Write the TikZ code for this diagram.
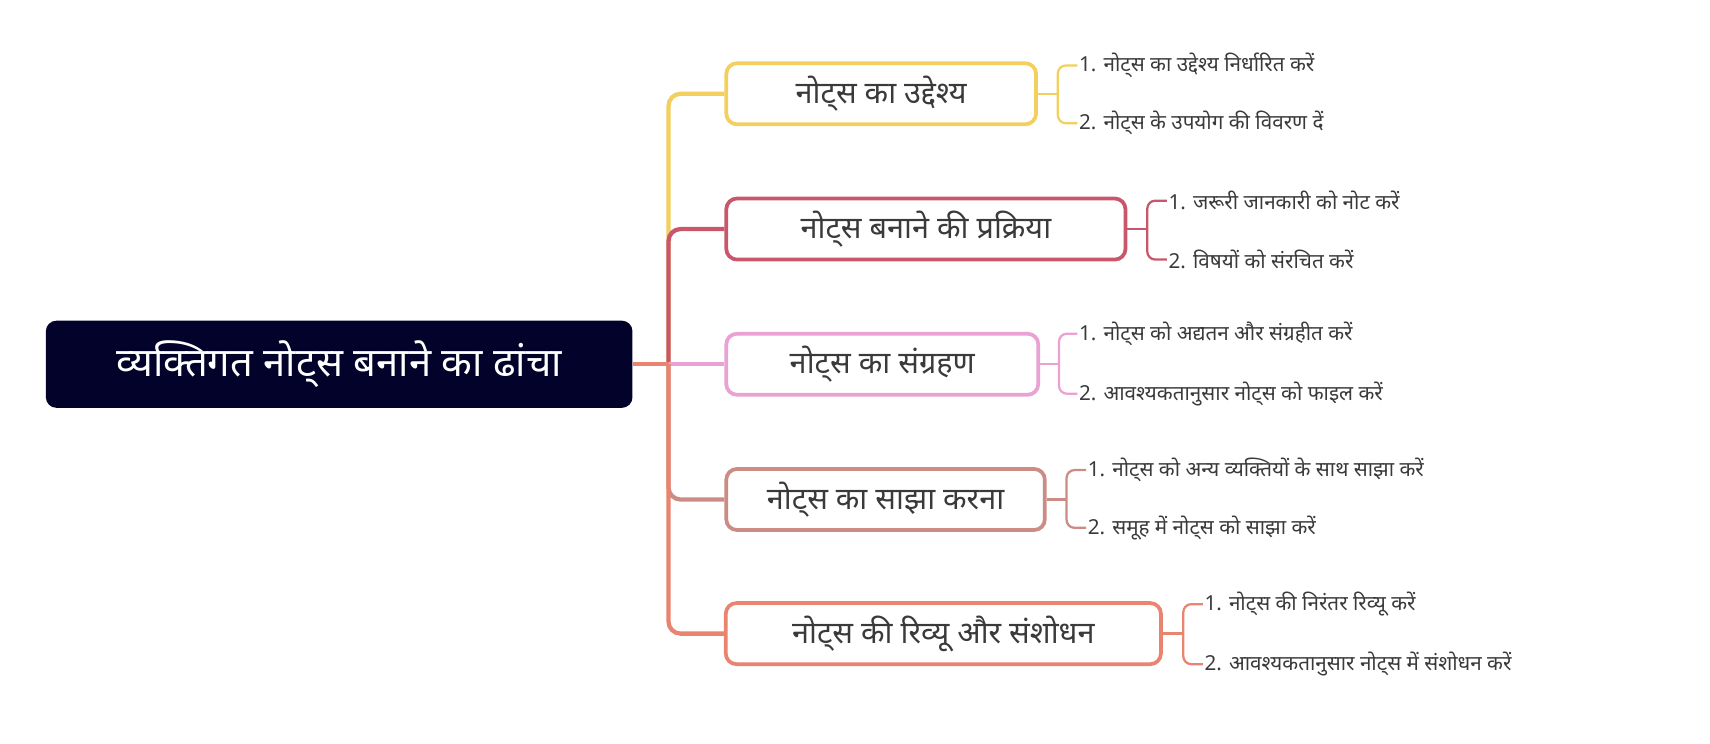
\documentclass[tikz,border=0pt]{standalone}
\usepackage{fontspec}
\setmainfont{Noto Sans}[Script=Devanagari]
\usepackage{tikz}
\usetikzlibrary{positioning}

\definecolor{navy}{HTML}{02022A}
\definecolor{mango}{HTML}{F2CF5E}
\definecolor{berry}{HTML}{C9576C}
\definecolor{orchid}{HTML}{E9A2D3}
\definecolor{rosewood}{HTML}{CC8C86}
\definecolor{salmon}{HTML}{E8846F}
\definecolor{ink}{HTML}{3A3A3A}

\tikzset{
  topic/.style={draw=#1,fill=white,line width=2.8pt,rounded corners=8pt,
    minimum height=45.8pt,text=ink,font=\fontsize{23}{28}\selectfont},
  leaf/.style={anchor=west,inner sep=1pt,text=ink,font=\fontsize{15.5}{19}\selectfont},
  branch/.style={draw=#1,line width=3.2pt,rounded corners=9pt},
  brace/.style={draw=#1,line width=1.7pt,rounded corners=6pt}
}

\begin{document}
\begin{tikzpicture}[x=0.818pt,y=-0.818pt]
        \useasboundingbox (0,0) rectangle (1568,682);
        \node[fill=navy,rounded corners=8pt,minimum width=440pt,minimum height=65.4pt,
              text=white,font=\fontsize{30}{36}\selectfont\bfseries] (root) at (311,334)
              {व्यक्तिगत नोट्स बनाने का ढांचा};
        \coordinate (t) at (613,334);

        \begin{scope}
          \node[topic=mango,minimum width=232.3pt] (b1) at (808,86) {नोट्स का उद्देश्य};
          \node[topic=berry,minimum width=299.4pt] (b2) at (849,210) {नोट्स बनाने की प्रक्रिया};
          \node[topic=orchid,minimum width=234pt] (b3) at (809,334) {नोट्स का संग्रहण};
          \node[topic=rosewood,minimum width=238.9pt] (b4) at (812,458) {नोट्स का साझा करना};
          \node[topic=salmon,minimum width=326.4pt] (b5) at (865,581) {नोट्स की रिव्यू और संशोधन};
        \end{scope}

        % trunk
        \draw[branch=mango] (t) |- (b1.west);
        \draw[branch=berry] (t) |- (b2.west);
        \draw[branch=orchid] (t) -- (b3.west);
        \draw[branch=rosewood] (t) |- (b4.west);
        \draw[branch=salmon] (t) |- (b5.west);
        \draw[branch=salmon,rounded corners=0pt] (root.east) -- (t);

        % leaves
        \node[leaf] (c11) at (988,60) {1. नोट्स का उद्देश्य निर्धारित करें};
        \node[leaf] (c12) at (988,113) {2. नोट्स के उपयोग की विवरण दें};
        \node[leaf] (c21) at (1070,184) {1. जरूरी जानकारी को नोट करें};
        \node[leaf] (c22) at (1070,238) {2. विषयों को संरचित करें};
        \node[leaf] (c31) at (988,306) {1. नोट्स को अद्यतन और संग्रहीत करें};
        \node[leaf] (c32) at (988,361) {2. आवश्यकतानुसार नोट्स को फाइल करें};
        \node[leaf] (c41) at (996,431) {1. नोट्स को अन्य व्यक्तियों के साथ साझा करें};
        \node[leaf] (c42) at (996,484) {2. समूह में नोट्स को साझा करें};
        \node[leaf] (c51) at (1103,554) {1. नोट्स की निरंतर रिव्यू करें};
        \node[leaf] (c52) at (1103,609) {2. आवश्यकतानुसार नोट्स में संशोधन करें};

        \coordinate (k1) at (970,86);
        \coordinate (k2) at (1052,210);
        \coordinate (k3) at (971,334);
        \coordinate (k4) at (978,458);
        \coordinate (k5) at (1085,581);

        \draw[brace=mango] (b1.east) -- (k1);
        \draw[brace=mango] (c11.west) -| (k1) |- (c12.west);
        \draw[brace=berry] (b2.east) -- (k2);
        \draw[brace=berry] (c21.west) -| (k2) |- (c22.west);
        \draw[brace=orchid] (b3.east) -- (k3);
        \draw[brace=orchid] (c31.west) -| (k3) |- (c32.west);
        \draw[brace=rosewood] (b4.east) -- (k4);
        \draw[brace=rosewood] (c41.west) -| (k4) |- (c42.west);
        \draw[brace=salmon] (b5.east) -- (k5);
        \draw[brace=salmon] (c51.west) -| (k5) |- (c52.west);
      \end{tikzpicture}
\end{document}
